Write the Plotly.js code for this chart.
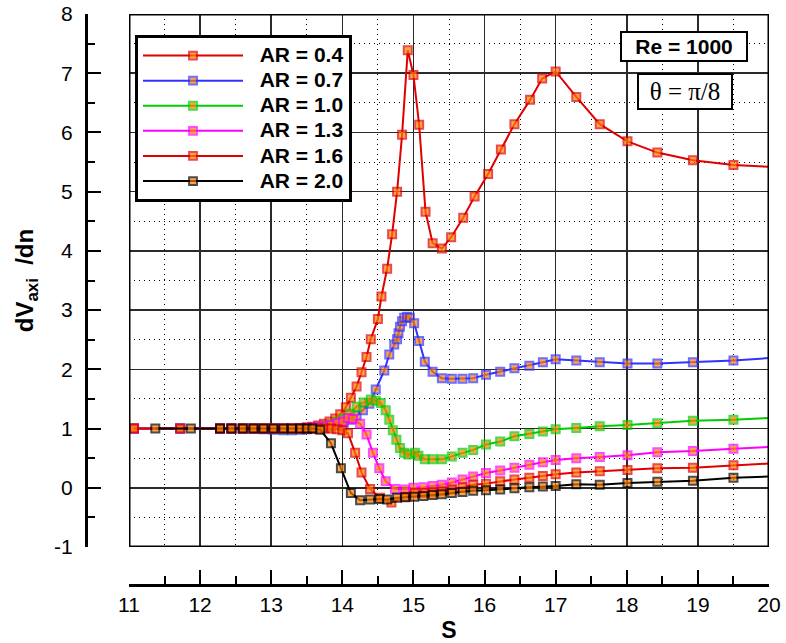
<!DOCTYPE html>
<html>
<head>
<meta charset="utf-8">
<script src="https://cdn.plot.ly/plotly-3.0.1.min.js"></script>
<style>html,body{margin:0;padding:0;background:#fff;}#chart{width:786px;height:643px;}</style>
</head>
<body>
<div id="chart"></div>
<script>
// ---- data ----
const seriesNames = ['AR = 0.4', 'AR = 0.7', 'AR = 1.0', 'AR = 1.3', 'AR = 1.6', 'AR = 2.0'];

const x_ar04 = [11.07, 11.72, 12.28, 12.44, 12.60, 12.75, 12.89, 13.03, 13.17, 13.29, 13.41, 13.50, 13.58,
  13.66, 13.74, 13.82, 13.90, 13.97, 14.05, 14.12, 14.20, 14.27, 14.34, 14.40, 14.50, 14.55,
  14.63, 14.70, 14.77, 14.84, 14.92, 15.00, 15.08, 15.17, 15.27, 15.40, 15.53, 15.70, 15.86,
  16.05, 16.23, 16.42, 16.64, 16.81, 17.00, 17.29, 17.62, 18.01, 18.43, 18.93, 19.50, 20.00];
const y_ar04 = [1, 1, 1, 1, 1, 1, 1, 1, 1, 1, 1.01, 1.02, 1.03,
  1.05, 1.08, 1.12, 1.17, 1.24, 1.36, 1.52, 1.71, 1.95, 2.21, 2.51, 2.85, 3.23,
  3.70, 4.28, 5.00, 5.96, 7.39, 6.97, 6.13, 4.66, 4.13, 4.04, 4.23, 4.56, 4.92,
  5.30, 5.71, 6.14, 6.55, 6.91, 7.03, 6.60, 6.14, 5.85, 5.66, 5.53, 5.45, 5.42];

const x_ar07 = [11.07, 11.72, 12.28, 12.44, 12.60, 12.75, 12.89, 13.03, 13.17, 13.29, 13.41, 13.50, 13.58,
  13.66, 13.75, 13.84, 13.93, 14.02, 14.11, 14.20, 14.29, 14.38,
  14.47, 14.59, 14.66, 14.73, 14.77, 14.79, 14.81, 14.84, 14.87, 14.91, 14.95, 15.01, 15.08, 15.16,
  15.27, 15.40, 15.54, 15.69, 15.84, 16.02, 16.22, 16.42, 16.63, 16.82,
  17.00, 17.29, 17.62, 18.01, 18.43, 18.93, 19.50, 20.00];
const y_ar07 = [1, 1, 1, 1, 1, 1, 0.99, 0.98, 0.97, 0.97, 0.98, 0.99, 1.00,
  1.01, 1.02, 1.04, 1.07, 1.10, 1.15, 1.22, 1.31, 1.42,
  1.66, 1.98, 2.25, 2.42, 2.51, 2.61, 2.72, 2.81, 2.87, 2.89, 2.87, 2.78, 2.48, 2.13,
  1.96, 1.85, 1.84, 1.84, 1.85, 1.91, 1.96, 2.02, 2.06, 2.12,
  2.17, 2.15, 2.12, 2.10, 2.10, 2.12, 2.15, 2.19];

const x_ar10 = [11.07, 11.72, 12.28, 12.44, 12.60, 12.75, 12.89, 13.03, 13.17, 13.29, 13.41, 13.50, 13.58,
  13.66, 13.75, 13.84, 13.93, 14.02, 14.11, 14.20,
  14.30, 14.40, 14.47, 14.54, 14.61, 14.66, 14.71, 14.76, 14.81, 14.87, 14.93,
  15.02, 15.07, 15.16,
  15.27, 15.40, 15.54, 15.69, 15.84, 16.02, 16.22, 16.42, 16.63, 16.82,
  17.00, 17.29, 17.62, 18.01, 18.43, 18.93, 19.50, 20.00];
const y_ar10 = [1, 1, 1, 1, 1, 1, 1, 1, 0.99, 0.99, 1.00, 1.00, 1.01,
  1.02, 1.04, 1.07, 1.11, 1.16, 1.25, 1.37,
  1.44, 1.49, 1.47, 1.43, 1.31, 1.15, 0.97, 0.81, 0.67, 0.59, 0.56,
  0.59, 0.54, 0.48,
  0.48, 0.48, 0.53, 0.59, 0.64, 0.73, 0.78, 0.87, 0.91, 0.95,
  0.99, 1.01, 1.04, 1.06, 1.09, 1.13, 1.15, 1.18];

const x_ar13 = [11.07, 11.72, 12.28, 12.44, 12.60, 12.75, 12.89, 13.03, 13.17, 13.29, 13.41, 13.50, 13.58,
  13.66, 13.75, 13.84, 13.93, 14.01,
  14.08, 14.15, 14.25, 14.34, 14.43, 14.52, 14.61, 14.74, 14.88, 15.00, 15.14,
  15.27, 15.40, 15.54, 15.69, 15.84, 16.02, 16.22, 16.42, 16.63, 16.82,
  17.00, 17.29, 17.62, 18.01, 18.43, 18.93, 19.50, 20.00];
const y_ar13 = [1, 1, 1, 1, 1, 1, 1, 1, 1, 1, 1, 1.01, 1.02,
  1.03, 1.04, 1.06, 1.09, 1.12,
  1.18, 1.16, 1.08, 0.90, 0.59, 0.33, 0.11, -0.02, -0.03, 0.00, 0.01,
  0.03, 0.05, 0.09, 0.14, 0.19, 0.25, 0.29, 0.34, 0.39, 0.43,
  0.47, 0.50, 0.52, 0.55, 0.60, 0.62, 0.66, 0.69];

const x_ar16 = [11.07, 11.72, 12.28, 12.44, 12.60, 12.75, 12.89, 13.03, 13.17, 13.29, 13.41, 13.50, 13.58,
  13.66, 13.75, 13.84, 13.92, 14.00,
  14.08, 14.18, 14.27, 14.39, 14.53, 14.69, 14.90, 15.02, 15.16,
  15.27, 15.40, 15.54, 15.69, 15.84, 16.02, 16.22, 16.42, 16.63, 16.82,
  17.00, 17.29, 17.62, 18.01, 18.43, 18.93, 19.50, 20.00];
const y_ar16 = [1, 1, 1, 1, 1, 1, 1, 1, 1, 1, 1, 1, 1,
  1.00, 1.00, 1.00, 0.99, 0.97,
  0.92, 0.59, 0.26, -0.02, -0.17, -0.25, -0.15, -0.09, -0.09,
  -0.08, -0.06, -0.03, 0.01, 0.05, 0.07, 0.11, 0.14, 0.17, 0.20,
  0.23, 0.26, 0.28, 0.30, 0.33, 0.34, 0.38, 0.41];

const x_ar20 = [11.37, 11.87, 12.28, 12.44, 12.60, 12.75, 12.89, 13.03, 13.17, 13.29, 13.41, 13.50, 13.58,
  13.69, 13.84, 13.98, 14.12, 14.25, 14.39, 14.52, 14.63, 14.77, 14.88, 15.01, 15.14,
  15.27, 15.40, 15.54, 15.69, 15.84, 16.02, 16.22, 16.42, 16.63, 16.82,
  17.00, 17.29, 17.62, 18.01, 18.43, 18.93, 19.50, 20.00];
const y_ar20 = [1, 1, 1, 1, 1, 1, 1, 1, 1, 1, 1, 1, 1,
  0.98, 0.75, 0.33, -0.09, -0.21, -0.20, -0.19, -0.20, -0.17, -0.16, -0.15, -0.14,
  -0.12, -0.11, -0.09, -0.07, -0.05, -0.04, -0.03, -0.01, 0.01, 0.02,
  0.03, 0.06, 0.05, 0.08, 0.10, 0.12, 0.17, 0.19];

const xTickVals = [11, 12, 13, 14, 15, 16, 17, 18, 19, 20];
const yTickVals = [-1, 0, 1, 2, 3, 4, 5, 6, 7, 8];
const yTickText = ['-1', '0', '1', '2', '3', '4', '5', '6', '7', '8'];

// ---- styling ----
const seriesX = [x_ar04, x_ar07, x_ar10, x_ar13, x_ar16, x_ar20];
const seriesY = [y_ar04, y_ar07, y_ar10, y_ar13, y_ar16, y_ar20];
const lineColors = ['#E00000', '#3333FF', '#00CC00', '#FF00FF', '#E00000', '#000000'];
const markerFill = '#FF8000';

const traces = seriesNames.map((name, k) => ({
  type: 'scatter',
  mode: 'lines+markers',
  name: '<span style="font-size:21px">\u00a0\u00a0' + name + '</span>',
  x: seriesX[k],
  y: seriesY[k],
  line: {color: lineColors[k], width: 2},
  marker: {
    symbol: 'square',
    color: markerFill,
    size: seriesX[k].map((v, i) => i === seriesX[k].length - 1 ? 0 : 8),
    line: {color: lineColors[k], width: 2}
  }
}));

const W = 786, H = 643;
const mL = 86, mR = 17, mT = 14, mB = 58;
const pw = W - mL - mR, ph = H - mT - mB;
const px = v => (v - mL) / pw;          // pixel -> paper x
const py = v => 1 - (v - mT) / ph;      // pixel -> paper y

const axisCommon = {
  showline: true, linecolor: '#000', linewidth: 3,
  ticks: 'inside', tickcolor: '#000', tickwidth: 2,
  showgrid: true, gridcolor: '#2a2a2a', gridwidth: 1.5,
  zeroline: false, anchor: 'free', position: 0,
  tickfont: {family: 'Liberation Sans, Arial, sans-serif', size: 21, color: '#000'},
  minor: {dtick: 0.5, ticks: 'inside', tickcolor: '#000', tickwidth: 2,
          showgrid: true, gridcolor: '#000', gridwidth: 1, griddash: '1px,4px'}
};

const layout = {
  width: W, height: H,
  margin: {l: mL, r: mR, t: mT, b: mB},
  paper_bgcolor: '#fff', plot_bgcolor: '#fff',
  font: {family: 'Liberation Sans, Arial, sans-serif', color: '#000'},
  showlegend: true,
  xaxis: Object.assign({}, axisCommon, {
    range: [11, 20], domain: [px(129), 1],
    tickvals: xTickVals, ticklen: 14, ticklabelstandoff: 0,
    minor: Object.assign({}, axisCommon.minor, {ticklen: 8}),
    title: {text: '<b>S</b>', font: {size: 23}, standoff: 9}
  }),
  yaxis: Object.assign({}, axisCommon, {
    range: [-1, 8], domain: [py(547), 1],
    tickvals: yTickVals, ticktext: yTickText, ticklen: 13, ticklabelstandoff: 8,
    minor: Object.assign({}, axisCommon.minor, {ticklen: 7}),
    title: {text: '<b>dV<sub>axi</sub>  /dn</b>', font: {size: 24}, standoff: 12}
  }),
  legend: {
    x: px(135), y: py(35), xanchor: 'left', yanchor: 'top',
    bgcolor: '#fff', bordercolor: '#000', borderwidth: 3,
    font: {size: 17, family: 'Liberation Sans, Arial, sans-serif', weight: 'bold'},
    itemwidth: 100, tracegroupgap: 0, entrywidth: 225, entrywidthmode: 'pixels'
  },
  shapes: [{
    type: 'rect', xref: 'x', yref: 'y', x0: 11, x1: 20, y0: -1, y1: 8,
    line: {color: '#000', width: 3}, layer: 'above'
  }],
  annotations: [
    {xref: 'paper', yref: 'paper', x: px(683.5), y: py(47), xanchor: 'center', yanchor: 'middle',
     text: '<b>Re = 1000</b>', showarrow: false, bgcolor: '#fff', bordercolor: '#000', borderwidth: 2,
     borderpad: 1, width: 122, height: 25, font: {size: 21, family: 'Liberation Sans, Arial, sans-serif'}},
    {xref: 'paper', yref: 'paper', x: px(684.5), y: py(91), xanchor: 'center', yanchor: 'middle',
     text: 'θ = π/8', showarrow: false, bgcolor: '#fff', bordercolor: '#000', borderwidth: 2,
     borderpad: 1, width: 90, height: 31, font: {size: 25, family: 'Liberation Serif, Times New Roman, serif'}}
  ]
};

Plotly.newPlot('chart', traces, layout, {displayModeBar: false, staticPlot: true});
</script>
</body>
</html>
